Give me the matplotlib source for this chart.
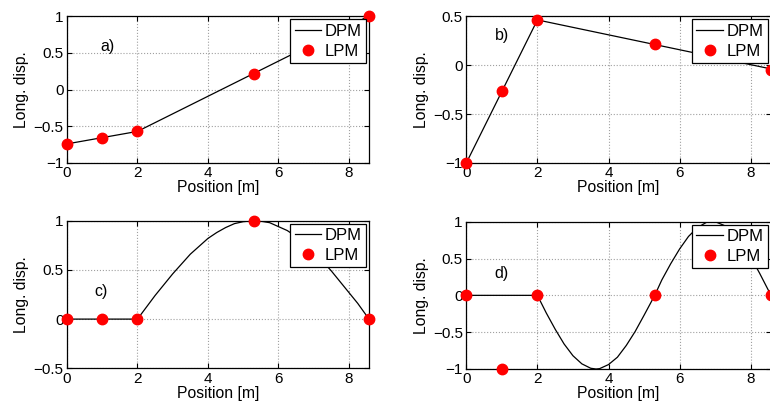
import matplotlib
matplotlib.use("Agg")
import matplotlib.pyplot as plt
from matplotlib.ticker import FuncFormatter

plt.rcParams['font.family'] = ['Liberation Sans', 'DejaVu Sans']
plt.rcParams['font.size'] = 11

# ---------------- data ----------------
lpm_x = [0, 1, 2, 5.3, 8.57]

# panel a
a_lpm_y = [-0.74, -0.66, -0.57, 0.21, 1.0]
a_dpm_x = [0, 2, 8.57]
a_dpm_y = [-0.74, -0.57, 1.0]

# panel b
b_lpm_y = [-1.0, -0.27, 0.46, 0.21, -0.05]
b_dpm_x = [0, 2, 8.57]
b_dpm_y = [-1.0, 0.46, -0.04]

# panel c
c_lpm_y = [0, 0, 0, 1.0, 0]
c_dpm_x = [0, 2, 2.25, 2.5, 2.75, 3, 3.25, 3.5, 3.75, 4, 4.25, 4.5, 4.75, 5,
           5.3, 5.5, 5.75, 6, 6.25, 6.5, 6.75, 7, 7.25, 7.5, 7.75, 8, 8.25, 8.57]
c_dpm_y = [0, 0, 0.12, 0.24, 0.35, 0.46, 0.56, 0.66, 0.74, 0.82, 0.88, 0.93, 0.97, 0.99,
           1.0, 0.995, 0.98, 0.94, 0.90, 0.84, 0.76, 0.68, 0.59, 0.49, 0.38, 0.27, 0.16, 0.0]

# panel d
d_lpm_y = [0, -1.0, 0, 0, 0]
d_dpm_x = [0, 2, 2.25, 2.5, 2.75, 3, 3.25, 3.5, 3.65, 3.75, 4, 4.25, 4.5, 4.75, 5,
           5.3, 5.5, 5.75, 6, 6.25, 6.5, 6.75, 6.93, 7.0, 7.25, 7.5, 7.75, 8, 8.25, 8.57]
d_dpm_y = [0, 0, -0.24, -0.46, -0.66, -0.82, -0.93, -0.99, -1.0, -0.995, -0.94, -0.84,
           -0.68, -0.49, -0.27, 0.0, 0.21, 0.43, 0.63, 0.80, 0.92, 0.99, 1.0, 1.0, 0.95,
           0.85, 0.71, 0.52, 0.30, 0.0]

xticks = [0, 2, 4, 6, 8]
panels = [
    dict(label='a)', lpm=a_lpm_y, dx=a_dpm_x, dy=a_dpm_y, ylim=(-1, 1),
         yticks=[-1, -0.5, 0, 0.5, 1], txt=(1.16, 0.58)),
    dict(label='b)', lpm=b_lpm_y, dx=b_dpm_x, dy=b_dpm_y, ylim=(-1, 0.5),
         yticks=[-1, -0.5, 0, 0.5], txt=(1.0, 0.30)),
    dict(label='c)', lpm=c_lpm_y, dx=c_dpm_x, dy=c_dpm_y, ylim=(-0.5, 1),
         yticks=[-0.5, 0, 0.5, 1], txt=(0.98, 0.28)),
    dict(label='d)', lpm=d_lpm_y, dx=d_dpm_x, dy=d_dpm_y, ylim=(-1, 1),
         yticks=[-1, -0.5, 0, 0.5, 1], txt=(1.0, 0.29)),
]

W, H = 770, 408
fig = plt.figure(figsize=(W / 100, H / 100), dpi=100)
rects = [
    (67, 16, 369, 163),
    (466.3, 16, 771, 163),
    (67, 220.7, 369, 368.3),
    (466.3, 221.7, 771, 369),
]

fmt = FuncFormatter(lambda v, p: ('%g' % v).replace('-', '\u2212'))

for p, (l, t, r, b) in zip(panels, rects):
    ax = fig.add_axes([l / W, 1 - b / H, (r - l) / W, (b - t) / H])
    ax.plot(p['dx'], p['dy'], color='black', lw=0.9, label='DPM', zorder=3)
    ax.plot(lpm_x, p['lpm'], 'o', color='red', ms=7.5, mec='red', label='LPM',
            zorder=4, clip_on=False)
    ax.set_xlim(0, 8.57)
    ax.set_ylim(*p['ylim'])
    ax.set_xticks(xticks)
    ax.set_yticks(p['yticks'])
    ax.yaxis.set_major_formatter(fmt)
    ax.xaxis.set_major_formatter(fmt)
    ax.grid(True, linestyle=':', color='#a0a0a0', lw=0.8)
    ax.tick_params(direction='in', top=True, right=True, length=3.5, width=0.8,
                   labelsize=11, pad=2.5)
    for s in ax.spines.values():
        s.set_linewidth(0.9)
    ax.set_xlabel('Position [m]', fontsize=11.3, labelpad=0)
    ax.set_ylabel('Long. disp.', fontsize=11.3, labelpad=3)
    ax.text(p['txt'][0], p['txt'][1], p['label'], fontsize=11.5, ha='center', va='center')
    leg = ax.legend(loc='upper right', fontsize=12, frameon=True, fancybox=False,
                    framealpha=1, edgecolor='black', handlelength=1.6,
                    handletextpad=0.2, borderpad=0.25, labelspacing=0.3,
                    borderaxespad=0.2)
    leg.get_frame().set_linewidth(0.9)
    leg.set_zorder(10)

fig.savefig('out.png', dpi=100)
